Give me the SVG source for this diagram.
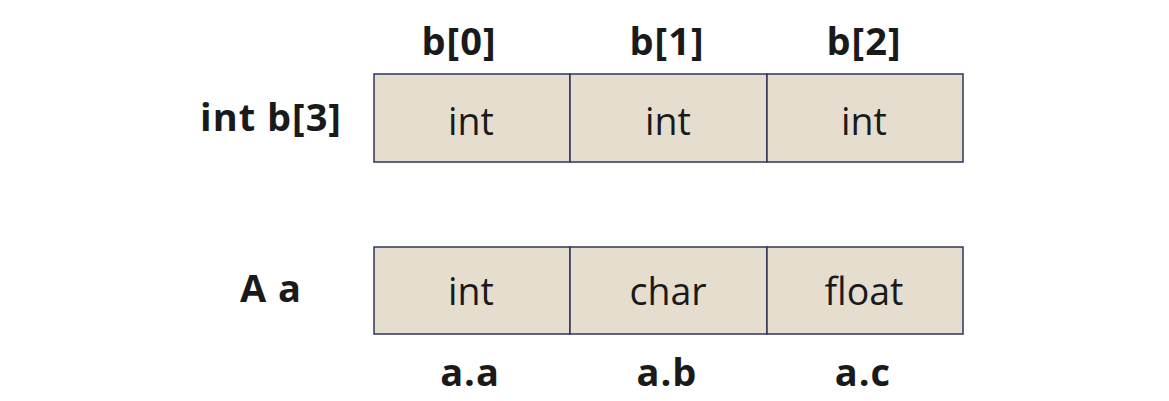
<svg xmlns="http://www.w3.org/2000/svg" width="1169" height="401" viewBox="0 0 1169 401">
<style>
.cell{fill:#E5DECF;stroke:#2F3560;stroke-width:1.5}
.t{font-family:"Open Sans","Noto Sans",sans-serif;font-size:37.5px;fill:#1a1a1a;text-anchor:middle}
.b{font-family:"Open Sans","Noto Sans",sans-serif;font-size:38px;font-weight:bold;fill:#1a1a1a;text-anchor:middle;letter-spacing:1px}
</style>
<rect width="1169" height="401" fill="#fff"/>
<g id="label-intb3"><text class="b" x="271" y="131">int b[3]</text></g>
<g id="label-b0"><text class="b" x="459" y="55">b[0]</text></g>
<g id="label-b1"><text class="b" x="667" y="55">b[1]</text></g>
<g id="label-b2"><text class="b" x="864" y="55">b[2]</text></g>
<g id="b0"><rect class="cell" x="374" y="74" width="196" height="88"/><text class="t" x="471" y="135">int</text></g>
<g id="b1"><rect class="cell" x="570" y="74" width="197" height="88"/><text class="t" x="668" y="135">int</text></g>
<g id="b2"><rect class="cell" x="767" y="74" width="196" height="88"/><text class="t" x="864" y="135">int</text></g>
<g id="label-Aa"><text class="b" x="271" y="302">A a</text></g>
<g id="aa"><rect class="cell" x="374" y="247" width="196" height="87"/><text class="t" x="471" y="305">int</text></g>
<g id="ab"><rect class="cell" x="570" y="247" width="197" height="87"/><text class="t" x="668" y="305">char</text></g>
<g id="ac"><rect class="cell" x="767" y="247" width="196" height="87"/><text class="t" x="864" y="305">float</text></g>
<g id="label-aa"><text class="b" x="470" y="386">a.a</text></g>
<g id="label-ab"><text class="b" x="667" y="386">a.b</text></g>
<g id="label-ac"><text class="b" x="863" y="386">a.c</text></g>
<g id="connectors"/>
</svg>
